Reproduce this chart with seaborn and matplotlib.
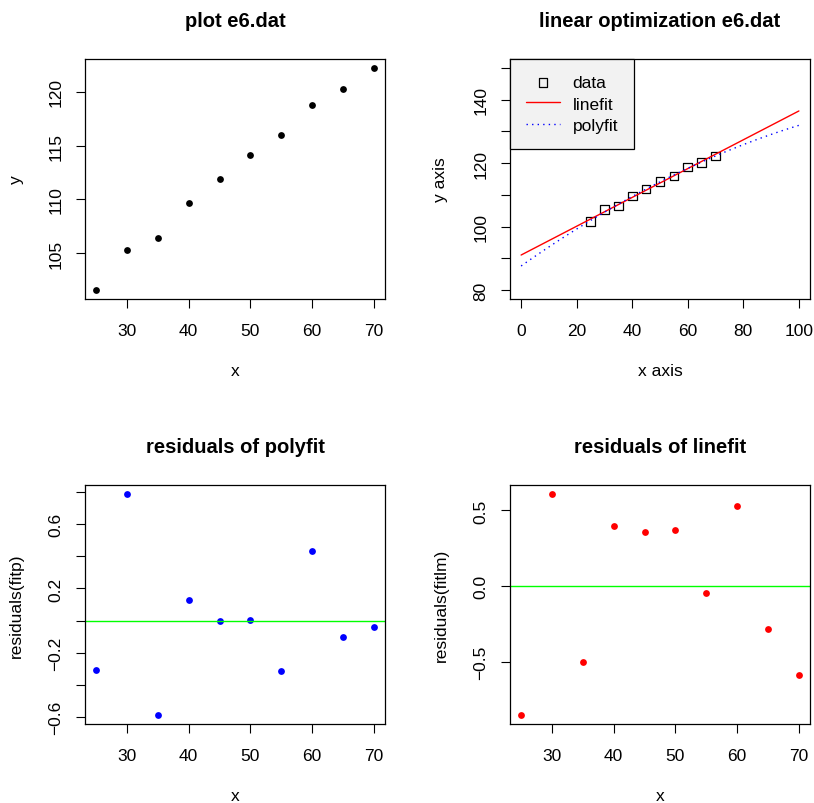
import numpy as np
import pandas as pd
import matplotlib
matplotlib.use('Agg')
import matplotlib.pyplot as plt
import seaborn as sns

# data (e6.dat and the two fits)
x = [25, 30, 35, 40, 45, 50, 55, 60, 65, 70]
y = [101.55, 105.31, 106.43, 109.63, 111.87, 114.13, 115.97, 118.82, 120.28, 122.24]
resid_poly = [-0.307, 0.790, -0.590, 0.126, -0.004, 0.006, -0.315, 0.435, -0.100, -0.041]
resid_lin = [-0.851, 0.610, -0.502, 0.399, 0.360, 0.368, -0.042, 0.528, -0.283, -0.583]

# fitted models (coefficients)
lin_coef = [0.4538, 91.05]
poly_coef = [-0.00174, 0.617, 87.6]
fit_range = [0, 100]

# tick labels
p1_yticks = [105, 110, 115, 120]
p2_xticks = [0, 20, 40, 60, 80, 100]
p2_yticks = [80, 90, 100, 110, 120, 130, 140, 150]
p2_ylabels = ['80', '', '100', '', '120', '', '140', '']
p3_yticks = [-0.6, -0.4, -0.2, 0.0, 0.2, 0.4, 0.6, 0.8]
p3_ylabels = ['\u22120.6', '', '\u22120.2', '', '0.2', '', '0.6', '']
p4_yticks = [-0.5, 0.0, 0.5]
p4_ylabels = ['\u22120.5', '0.0', '0.5']
xticks_data = [30, 40, 50, 60, 70]

df = pd.DataFrame({'x': x, 'y': y, 'rp': resid_poly, 'rl': resid_lin})

sns.set_theme(style='ticks')
plt.rcParams['font.family'] = ['Liberation Sans', 'DejaVu Sans']
plt.rcParams['text.color'] = 'black'
plt.rcParams['axes.labelcolor'] = 'black'
plt.rcParams['axes.titlecolor'] = 'black'

FS = 12.5
TFS = 14.5

fig = plt.figure(figsize=(8.14, 8.04), dpi=100)
W, H = 814, 804

def make_ax(left, top, right, bottom):
    return fig.add_axes([left / W, 1 - bottom / H, (right - left) / W, (bottom - top) / H])

ax1 = make_ax(85, 60, 385, 300)
ax2 = make_ax(510, 60, 810, 300)
ax3 = make_ax(85, 486, 385, 725)
ax4 = make_ax(510, 486, 810, 725)

def style(ax, title, xlabel, ylabel):
    for s in ax.spines.values():
        s.set_visible(True)
        s.set_color('black')
        s.set_linewidth(0.9)
    ax.tick_params(direction='out', length=6.5, width=0.8, color='black',
                   labelsize=FS, labelcolor='black')
    ax.tick_params(axis='x', pad=11)
    ax.tick_params(axis='y', pad=9)
    ax.set_title(title, fontsize=TFS, fontweight='bold', pad=24, color='black')
    ax.set_xlabel(xlabel, fontsize=FS, labelpad=18, color='black')
    ax.set_ylabel(ylabel, fontsize=FS, labelpad=18, color='black')
    ax.grid(False)

# panel 1: raw data
sns.scatterplot(data=df, x='x', y='y', ax=ax1, color='black', s=24,
                edgecolor='black', linewidth=0)
ax1.set_xlim(23.2, 71.8)
ax1.set_ylim(100.72, 123.07)
ax1.set_xticks(xticks_data)
ax1.set_yticks(p1_yticks)
ax1.set_yticklabels([str(v) for v in p1_yticks], rotation=90, va='center')
style(ax1, 'plot e6.dat', 'x', 'y')

# panel 2: data with both fits
fx = np.linspace(fit_range[0], fit_range[1], 101)
sns.scatterplot(data=df, x='x', y='y', ax=ax2, marker='s', s=38,
                facecolor='none', edgecolor='black', linewidth=0.9, label='data')
sns.lineplot(x=fx, y=np.polyval(lin_coef, fx), ax=ax2, color='#ff0000',
             linewidth=1.0, label='linefit')
sns.lineplot(x=fx, y=np.polyval(poly_coef, fx), ax=ax2, color='#0000ff',
             linewidth=1.0, linestyle=(0, (1, 3)), label='polyfit')
ax2.set_xlim(-4, 104)
ax2.set_ylim(77.2, 152.8)
ax2.set_xticks(p2_xticks)
ax2.set_yticks(p2_yticks)
ax2.set_yticklabels(p2_ylabels, rotation=90, va='center')
style(ax2, 'linear optimization e6.dat', 'x axis', 'y axis')
leg = ax2.legend(loc='upper left', borderaxespad=0, fancybox=False,
                 framealpha=1, facecolor='#f2f2f2', edgecolor='black',
                 fontsize=FS, handlelength=2.0, handletextpad=0.7,
                 labelspacing=0.38, borderpad=0.9)
leg.get_frame().set_linewidth(0.9)

# panel 3: residuals of polyfit
sns.scatterplot(data=df, x='x', y='rp', ax=ax3, color='#0000ff', s=24, linewidth=0)
ax3.axhline(0, color='#00ff00', linewidth=1.0)
ax3.set_xlim(23.2, 71.8)
ax3.set_ylim(-0.645, 0.845)
ax3.set_xticks(xticks_data)
ax3.set_yticks(p3_yticks)
ax3.set_yticklabels(p3_ylabels, rotation=90, va='center')
style(ax3, 'residuals of polyfit', 'x', 'residuals(fitp)')

# panel 4: residuals of linefit
sns.scatterplot(data=df, x='x', y='rl', ax=ax4, color='#ff0000', s=24, linewidth=0)
ax4.axhline(0, color='#00ff00', linewidth=1.0)
ax4.set_xlim(23.2, 71.8)
ax4.set_ylim(-0.909, 0.668)
ax4.set_xticks(xticks_data)
ax4.set_yticks(p4_yticks)
ax4.set_yticklabels(p4_ylabels, rotation=90, va='center')
style(ax4, 'residuals of linefit', 'x', 'residuals(fitlm)')

fig.savefig('out.png', dpi=100)
plt.close()
